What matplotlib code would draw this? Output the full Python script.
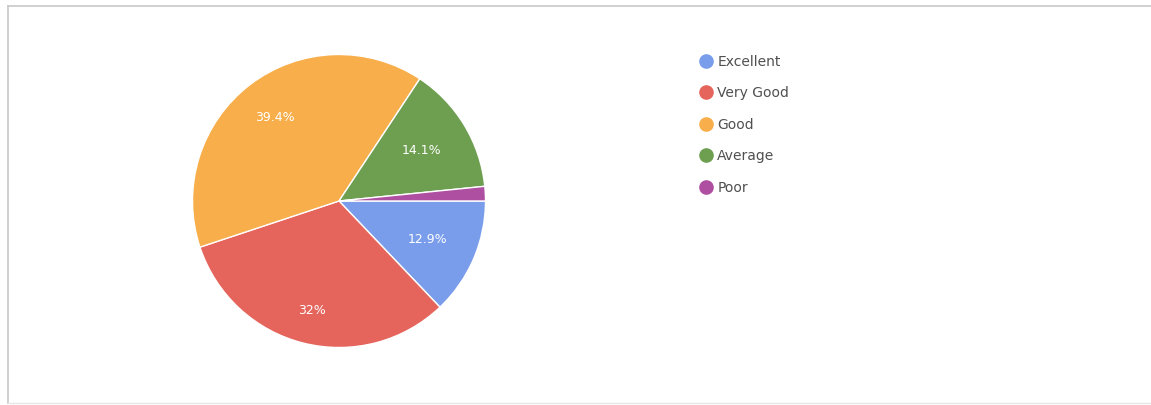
import matplotlib
matplotlib.use('Agg')
import matplotlib.pyplot as plt
from matplotlib.lines import Line2D
import numpy as np

# ratings share
categories = ['Excellent', 'Very Good', 'Good', 'Average', 'Poor']
shares = [12.9, 32.0, 39.4, 14.1, 1.6]
pct_labels = ['12.9%', '32%', '39.4%', '14.1%', '']
colors = ['#799DEB', '#E5655C', '#F8AE4A', '#6E9F50', '#AE4FA2']
# how far out each percentage label sits (fraction of radius)
label_dist = [0.66, 0.77, 0.72, 0.66, 0.66]

W, H = 1151, 405
fig = plt.figure(figsize=(W / 100, H / 100), dpi=100)

# pie centered at about (339, 201) px, radius ~146.5 px
cx, cy, r = 339, 201, 146.5
ax = fig.add_axes([(cx - r) / W, (H - cy - r) / H, 2 * r / W, 2 * r / H])
wedges, _ = ax.pie(shares, colors=colors, startangle=0, counterclock=False,
                   radius=1.0, wedgeprops=dict(edgecolor='white', linewidth=1))
for w, lab, d in zip(wedges, pct_labels, label_dist):
    if not lab:
        continue
    ang = np.deg2rad((w.theta1 + w.theta2) / 2)
    ax.text(d * np.cos(ang), d * np.sin(ang), lab, color='white',
            fontsize=9, ha='center', va='center')
ax.set_xlim(-1, 1)
ax.set_ylim(-1, 1)
ax.set_aspect('equal')
ax.axis('off')

handles = [Line2D([], [], marker='o', linestyle='', markersize=9.5,
                  markerfacecolor=c, markeredgecolor=c) for c in colors]
fig.legend(handles, categories, loc='upper left',
           bbox_to_anchor=(693 / W, 1 - 49 / H), frameon=False,
           fontsize=10, labelspacing=1.26, handletextpad=0.35,
           handlelength=1.0, labelcolor='#505050', borderaxespad=0)

# thin grey frame on left and top
fig.add_artist(Line2D([8 / W, 8 / W], [1 - 6 / H, 1 - 403 / H], color='#c8c8c8', lw=1.2))
fig.add_artist(Line2D([8 / W, 1], [1 - 6 / H, 1 - 6 / H], color='#c8c8c8', lw=1.2))
fig.add_artist(Line2D([8 / W, 1], [1 - 403 / H, 1 - 403 / H], color='#e6e6e6', lw=1))

fig.savefig('out.png', dpi=100)
